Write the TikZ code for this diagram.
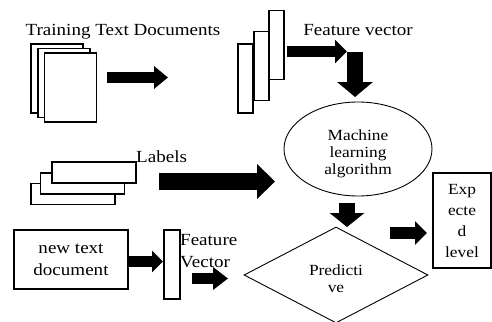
\documentclass[tikz,border=0pt]{standalone}
\usepackage{fontspec}
\setmainfont[FakeStretch=1.12]{Liberation Serif}
\usetikzlibrary{calc,arrows.meta,shapes.geometric}

\tikzset{
    page/.style={draw, line width=1.2pt, fill=white, minimum width=52pt, minimum height=69pt, inner sep=0pt},
    bar/.style={draw, line width=1.2pt, fill=white, minimum width=15pt, minimum height=69pt, inner sep=0pt},
    tag/.style={draw, line width=1.2pt, fill=white, minimum width=84pt, minimum height=21pt, inner sep=0pt},
    txt/.style={font=\fontsize{17}{22}\selectfont, inner sep=0pt},
    smalltxt/.style={font=\fontsize{15.5}{17}\selectfont, inner sep=0pt, align=center},
    fat/.style n args={3}{line width=#1pt, -{Triangle[length=#3pt, width=#2pt]}},
}

\begin{document}
\begin{tikzpicture}[x=1pt, y=-1pt]
    \useasboundingbox (0, 0) rectangle (492, 321);

    % training documents
    \node[txt, anchor=base] (trtitle) at (123, 36) {Training Text Documents};
    \node[page] (doc1) at (57, 78.5) {};
    \node[page] (doc2) at (64, 83) {};
    \node[page] (doc3) at (70.5, 87.5) {};

    % feature vectors
    \node[bar] (fv1) at (245.5, 78.5) {};
    \node[bar] (fv2) at (261.5, 66) {};
    \node[bar] (fv3) at (276.5, 45) {};
    \node[txt, anchor=base] (fvtitle) at (358, 36) {Feature vector};

    % learning algorithm
    \node[draw, line width=0.9pt, ellipse, minimum width=148pt, minimum height=94pt] (ml) at (358, 149) {};
    \node[smalltxt, anchor=north] (mltxt) at (358, 129.5) {Machine\\learning\\algorithm};

    % labels
    \node[tag] (lbl1) at (73, 194) {};
    \node[tag] (lbl2) at (82.5, 183.5) {};
    \node[tag] (lbl3) at (94, 172.5) {};
    \node[txt, anchor=base west] (lbltitle) at (136, 162) {Labels};

    % new document
    \node[draw, line width=1.2pt, txt, align=center, minimum width=114pt, minimum height=59pt] (newdoc) at (71, 259.5) {new text\\document};
    \node[draw, line width=1.2pt, fill=white, minimum width=16pt, minimum height=69pt, inner sep=0pt] (fvbar) at (172, 264.5) {};
    \node[txt, align=left, anchor=north west] (fvtxt) at (180, 233.7) {Feature\\Vector};

    % prediction
    \node[draw, line width=0.9pt, diamond, minimum width=184pt, minimum height=96pt, inner sep=0pt] (pred) at (336, 275) {};
    \node[smalltxt, anchor=north] (predtxt) at (336, 264.4) {Predicti\\ve};
    \node[draw, line width=1.2pt, align=center, inner sep=0pt, font=\fontsize{15.5}{21}\selectfont, minimum width=58pt, minimum height=95pt] (explvl) at (462, 220.5) {Exp\\ecte\\d\\level};

    % block arrows
    \coordinate (a1s) at (107, 77.5);   \coordinate (a1e) at (168, 77.5);
    \coordinate (a2s) at (287, 51.5);   \coordinate (a2e) at (347, 51.5);
    \coordinate (a3s) at (355, 52);     \coordinate (a3e) at (355, 97);
    \coordinate (a4s) at (159, 181.5);  \coordinate (a4e) at (275, 181.5);
    \coordinate (a5s) at (128, 261.5);  \coordinate (a5e) at (163, 261.5);
    \coordinate (a6s) at (192, 278.5);  \coordinate (a6e) at (228, 278.5);
    \coordinate (a7s) at (347, 203);    \coordinate (a7e) at (347, 227);
    \coordinate (a8s) at (390, 233);    \coordinate (a8e) at (427, 233);
    \draw[fat={11}{22}{14}] (a1s) -- (a1e);
    \draw[fat={11}{23}{12}] (a2s) -- (a2e);
    \draw[fat={16}{35}{15}] (a3s) -- (a3e);
    \draw[fat={17}{34}{18}] (a4s) -- (a4e);
    \draw[fat={11}{21}{11}] (a5s) -- (a5e);
    \draw[fat={11}{22}{15}] (a6s) -- (a6e);
    \draw[fat={16}{34}{14}] (a7s) -- (a7e);
    \draw[fat={12}{23}{12}] (a8s) -- (a8e);
\end{tikzpicture}
\end{document}
